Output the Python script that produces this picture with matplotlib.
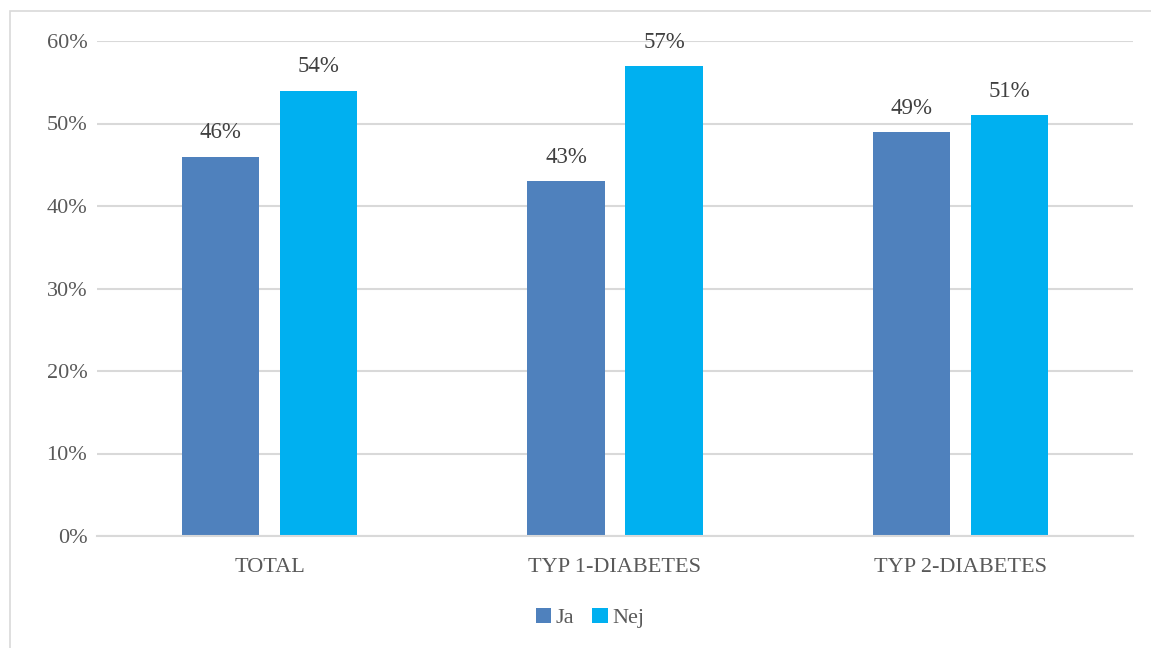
import numpy as np
import matplotlib.pyplot as plt
from matplotlib.patches import Rectangle
from matplotlib.ticker import PercentFormatter

categories = ['TOTAL', 'TYP 1-DIABETES', 'TYP 2-DIABETES']
ja = [46, 43, 49]
nej = [54, 57, 51]
yticks = [0, 10, 20, 30, 40, 50, 60]

plt.rcParams['font.family'] = ['Liberation Serif', 'DejaVu Serif']

fig = plt.figure(figsize=(11.51, 6.48), dpi=100)
ax = fig.add_axes([97/1151, 1 - 536/648, 1036/1151, 495/648])

# outer chart border
fig.patches.append(Rectangle((10/1151, -0.1), 1.2, 1 - 11/648 + 0.1,
                             transform=fig.transFigure, fill=False,
                             edgecolor='#D9D9D9', lw=1.2))

x = np.arange(len(categories))
w = 0.224
off = 0.142
b1 = ax.bar(x - off, ja, w, color='#4F81BD', label='Ja')
b2 = ax.bar(x + off, nej, w, color='#00B0F0', label='Nej')

for bars, vals in ((b1, ja), (b2, nej)):
    for r, v in zip(bars, vals):
        ax.text(r.get_x() + r.get_width() / 2, v + 1.6, '%d%%' % v,
                ha='center', va='bottom', fontsize=16.5, color='#404040')

ax.set_xlim(-0.5, 2.5)
ax.set_ylim(0, 60)
ax.set_yticks(yticks)
ax.yaxis.set_major_formatter(PercentFormatter(decimals=0))
ax.set_xticks(x)
ax.set_xticklabels(categories)
ax.grid(axis='y', color='#D9D9D9', lw=1.5)
ax.set_axisbelow(True)
for s in ['top', 'right', 'left']:
    ax.spines[s].set_visible(False)
ax.spines['bottom'].set_color('#D9D9D9')
ax.spines['bottom'].set_linewidth(1.5)
ax.tick_params(length=0, labelsize=16, labelcolor='#595959')
ax.tick_params(axis='y', pad=7)
ax.tick_params(axis='x', pad=16)

fig.legend(loc='center', bbox_to_anchor=(590/1151, 1 - 618/648), ncol=2,
           frameon=False, fontsize=16, labelcolor='#595959',
           handlelength=0.7, handleheight=0.7, handletextpad=0.2,
           columnspacing=0.8)

fig.savefig('out.png', dpi=100)
